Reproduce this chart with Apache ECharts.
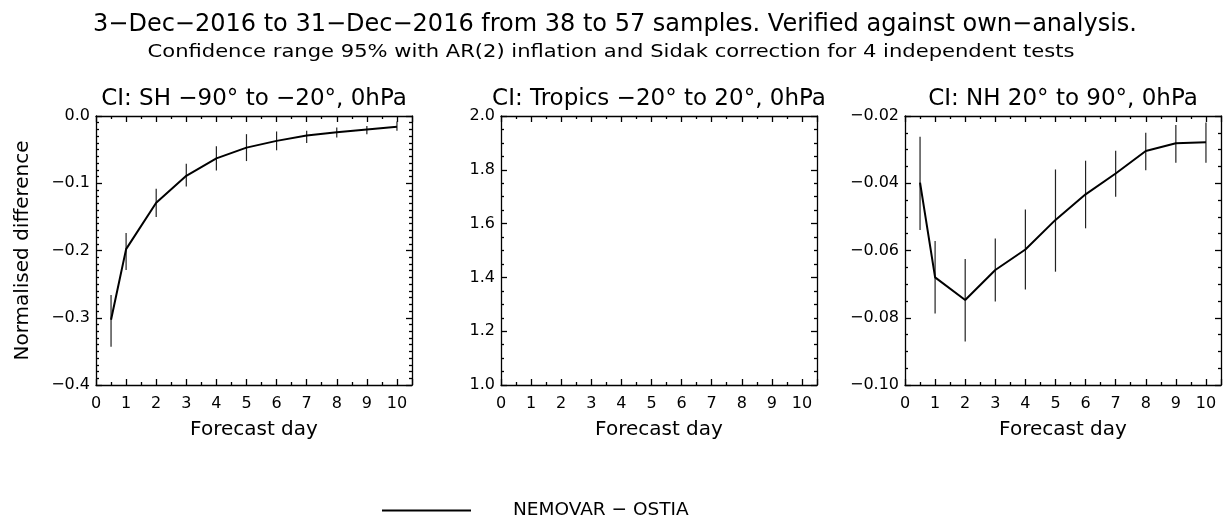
<!DOCTYPE html>
<html>
<head>
<meta charset="utf-8">
<script src="https://cdn.jsdelivr.net/npm/echarts@6/dist/echarts.min.js"></script>
<style>
html,body{margin:0;padding:0;background:#fff;}
#chart{width:1228px;height:515px;}
</style>
</head>
<body>
<div id="chart"></div>
<script>
// ---- data ----
const mainTitle = "3\u2212Dec\u22122016 to 31\u2212Dec\u22122016 from 38 to 57 samples. Verified against own\u2212analysis.";
const subTitle = "Confidence range 95% with AR(2) inflation and Sidak correction for 4 independent tests";
const panelTitles = [
  "CI: SH \u221290\u00b0 to \u221220\u00b0, 0hPa",
  "CI: Tropics \u221220\u00b0 to 20\u00b0, 0hPa",
  "CI: NH 20\u00b0 to 90\u00b0, 0hPa"
];
const seriesName = "NEMOVAR \u2212 OSTIA";
const xName = "Forecast day";
const yName = "Normalised difference";

const days = [0.5, 1, 2, 3, 4, 5, 6, 7, 8, 9, 10];

const shMean = [-0.303, -0.198, -0.129, -0.089, -0.063, -0.047, -0.037, -0.029, -0.024, -0.020, -0.016];
const shLow  = [-0.343, -0.229, -0.150, -0.105, -0.081, -0.067, -0.051, -0.040, -0.032, -0.027, -0.022];
const shHigh = [-0.266, -0.174, -0.108, -0.071, -0.045, -0.027, -0.023, -0.022, -0.017, -0.015, -0.008];

const nhMean = [-0.0398, -0.0680, -0.0747, -0.0658, -0.0597, -0.0509, -0.0433, -0.0371, -0.0304, -0.0281, -0.0278];
const nhLow  = [-0.0539, -0.0787, -0.0871, -0.0752, -0.0716, -0.0663, -0.0534, -0.0440, -0.0361, -0.0339, -0.0339];
const nhHigh = [-0.0262, -0.0572, -0.0625, -0.0564, -0.0478, -0.0359, -0.0333, -0.0303, -0.0250, -0.0227, -0.0219];

const yRanges = [
  {min: -0.4, max: 0.0, interval: 0.1, minor: 10, dec: 1},
  {min: 1.0, max: 2.0, interval: 0.2, minor: 4, dec: 1},
  {min: -0.10, max: -0.02, interval: 0.02, minor: 4, dec: 2}
];

// ---- layout ----
const FONT = "DejaVu Sans";
const gridLefts = [96, 501, 905];
const GW = 316, GH = 269, GT = 116;

const chart = echarts.init(document.getElementById('chart'), null, {renderer: 'canvas'});

const grids = [], xAxes = [], yAxes = [], titles = [];
titles.push({text: mainTitle, left: 610, top: 8, textAlign: 'center',
  textStyle: {fontFamily: FONT, fontSize: 24, fontWeight: 'normal', color: '#000'}});

function fmtY(dec) {
  return function (v) {
    let s = Math.abs(v) < 1e-12 ? (0).toFixed(dec) : v.toFixed(dec);
    return s.replace('-', '\u2212');
  };
}
const fmtX = function (v) {
  const r = Math.round(v);
  return Math.abs(v - r) < 1e-9 ? String(r) : '';
};

const lineCol = '#000';
function axisCommon() {
  return {
    axisLine: {show: true, onZero: false, lineStyle: {color: lineCol, width: 1.3}},
    axisTick: {show: true, inside: true, length: 6, lineStyle: {color: lineCol, width: 1.3}},
    splitLine: {show: false},
    minorSplitLine: {show: false}
  };
}

for (let g = 0; g < 3; g++) {
  grids.push({left: gridLefts[g], top: GT, width: GW, height: GH, containLabel: false});
  titles.push({text: panelTitles[g], left: gridLefts[g] + GW / 2 - 5, top: 83, textAlign: 'center',
    textStyle: {fontFamily: FONT, fontSize: 23, fontWeight: 'normal', color: '#000'}});
  const yr = yRanges[g];
  xAxes.push(Object.assign(axisCommon(), {
    type: 'value', gridIndex: g, position: 'bottom', min: 0, max: 10.5, interval: 1,
    minorTick: {show: true, splitNumber: 2, length: 3, lineStyle: {color: lineCol, width: 1.3}},
    axisLabel: {show: true, formatter: fmtX, fontFamily: FONT, fontSize: 16, color: '#000', margin: 11},
    name: xName, nameLocation: 'middle', nameGap: 35,
    nameTextStyle: {fontFamily: FONT, fontSize: 20, color: '#000'}
  }));
  xAxes.push(Object.assign(axisCommon(), {
    type: 'value', gridIndex: g, position: 'top', min: 0, max: 10.5, interval: 1,
    minorTick: {show: true, splitNumber: 2, length: 3, lineStyle: {color: lineCol, width: 1.3}},
    axisLabel: {show: false}
  }));
  const yLeft = Object.assign(axisCommon(), {
    type: 'value', gridIndex: g, position: 'left', min: yr.min, max: yr.max, interval: yr.interval,
    minorTick: {show: true, splitNumber: yr.minor, length: 3, lineStyle: {color: lineCol, width: 1.3}},
    axisLabel: {show: true, formatter: fmtY(yr.dec), fontFamily: FONT, fontSize: 16, color: '#000', margin: 6}
  });
  if (g === 0) {
    yLeft.name = yName;
    yLeft.nameLocation = 'middle';
    yLeft.nameGap = 63;
    yLeft.nameTextStyle = {fontFamily: FONT, fontSize: 20, color: '#000'};
  }
  yAxes.push(yLeft);
  yAxes.push(Object.assign(axisCommon(), {
    type: 'value', gridIndex: g, position: 'right', min: yr.min, max: yr.max, interval: yr.interval,
    minorTick: {show: true, splitNumber: yr.minor, length: 3, lineStyle: {color: lineCol, width: 1.3}},
    axisLabel: {show: false}
  }));
}

function errRender(params, api) {
  const x = api.value(0);
  const a = api.coord([x, api.value(1)]);
  const b = api.coord([x, api.value(2)]);
  return {type: 'line', shape: {x1: a[0], y1: a[1], x2: b[0], y2: b[1]},
    style: {stroke: '#222', lineWidth: 1.2}};
}

function pairs(xs, ys) { return xs.map((x, i) => [x, ys[i]]); }
function bars(xs, lo, hi) { return xs.map((x, i) => [x, lo[i], hi[i]]); }

const series = [
  {type: 'custom', name: 'sh-err', xAxisIndex: 0, yAxisIndex: 0, renderItem: errRender,
   encode: {x: 0, y: [1, 2]}, data: bars(days, shLow, shHigh), z: 2},
  {type: 'line', name: seriesName, xAxisIndex: 0, yAxisIndex: 0, data: pairs(days, shMean),
   showSymbol: false, symbol: 'none', lineStyle: {color: '#000', width: 2}, itemStyle: {color: '#000'}, z: 3},
  {type: 'custom', name: 'nh-err', xAxisIndex: 4, yAxisIndex: 4, renderItem: errRender,
   encode: {x: 0, y: [1, 2]}, data: bars(days, nhLow, nhHigh), z: 2},
  {type: 'line', name: seriesName, xAxisIndex: 4, yAxisIndex: 4, data: pairs(days, nhMean),
   showSymbol: false, symbol: 'none', lineStyle: {color: '#000', width: 2}, itemStyle: {color: '#000'}, z: 3}
];

chart.setOption({
  animation: false,
  backgroundColor: '#fff',
  title: titles,
  graphic: [{
    type: 'text', x: 611, y: 53, scaleX: 1.24, scaleY: 1, silent: true,
    style: {text: subTitle, font: '17px "DejaVu Sans"', fill: '#000',
      textAlign: 'center', textVerticalAlign: 'middle', align: 'center', verticalAlign: 'middle'}
  }],
  grid: grids,
  xAxis: xAxes,
  yAxis: yAxes,
  legend: {
    data: [seriesName], left: 377, top: 496, icon: 'rect', itemWidth: 89, itemHeight: 2,
    itemStyle: {color: '#000'},
    textStyle: {fontFamily: FONT, fontSize: 18.5, color: '#000', padding: [0, 0, 0, 37]},
    selectedMode: false
  },
  series: series
});
</script>
</body>
</html>
